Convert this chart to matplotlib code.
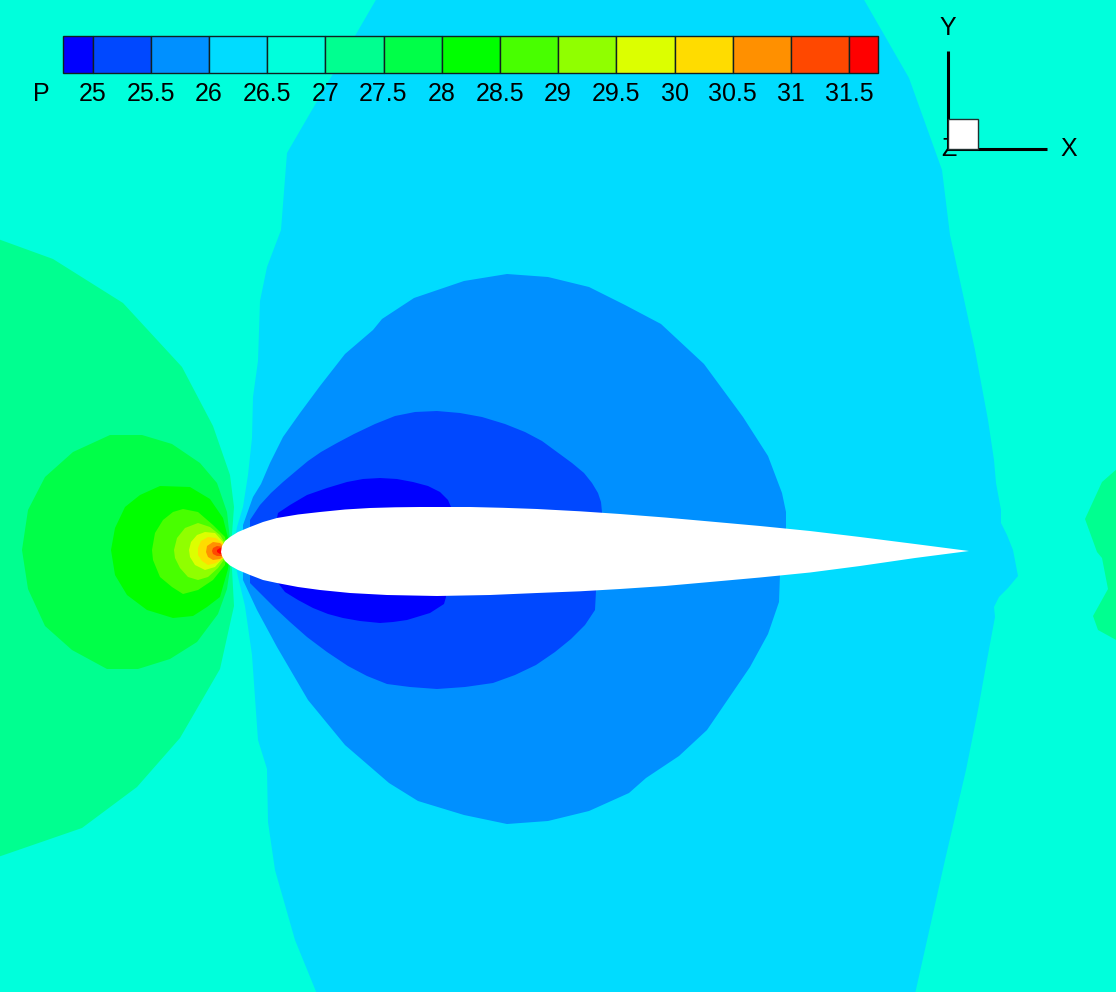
import numpy as np
import matplotlib
matplotlib.use("Agg")
import matplotlib.pyplot as plt

plt.rcParams['font.family'] = ['Liberation Sans', 'DejaVu Sans']

# ==== Pressure bands, colours and colour bar labels ====
band_colors = ['#0000FF', '#0048FF', '#0090FF', '#00DCFF', '#00FFDC', '#00FF90', '#00FF48', '#00FF00',
               '#48FF00', '#90FF00', '#DCFF00', '#FFDC00', '#FF9000', '#FF4800', '#FF0000']
band_edges = [24.75, 25, 25.5, 26, 26.5, 27, 27.5, 28, 28.5, 29, 29.5, 30, 30.5, 31, 31.5, 31.75]
tick_levels = [25, 25.5, 26, 26.5, 27, 27.5, 28, 28.5, 29, 29.5, 30, 30.5, 31, 31.5]

# ==== Contour outlines (image coordinates) ====
p26_5_cyan = [(377, -2), (287, 153), (281, 230), (267, 267), (260, 301), (258, 361), (253, 397), (252, 438),
              (248, 475), (243, 507), (237, 527), (233, 551), (238, 577), (245, 606), (252, 655), (258, 740),
              (267, 769), (268, 822), (275, 870), (295, 940), (317, 994), (915, 994), (945, 860), (966, 770),
              (978, 710), (987, 660), (995, 617), (994, 607), (999, 597), (1008, 588), (1018, 576), (1013, 550),
              (1007, 535), (1001, 523), (1001, 510), (996, 483), (994, 460), (988, 420), (975, 350), (962, 290),
              (950, 235), (942, 170), (909, 78), (863, -2)]
p26_blue = [(243, 525), (253, 497), (261, 484), (270, 463), (283, 437), (300, 413), (320, 386), (345, 354),
            (373, 330), (382, 319), (414, 298), (464, 281), (507, 274), (548, 277), (589, 287), (625, 305),
            (661, 324), (704, 364), (743, 417), (768, 456), (782, 493), (786, 512), (786, 528), (780, 574),
            (779, 602), (768, 634), (750, 667), (707, 730), (679, 756), (646, 778), (629, 793), (589, 811),
            (548, 821), (507, 824), (464, 815), (418, 801), (389, 783), (345, 745), (308, 700), (277, 647),
            (257, 610), (243, 580)]
p25_5_blue = [(250, 520), (260, 505), (271, 493), (283, 482), (296, 471), (308, 461), (321, 452), (337, 443),
              (354, 434), (375, 424), (395, 416), (415, 412), (437, 411), (460, 413), (482, 417), (505, 424),
              (525, 432), (542, 441), (557, 452), (572, 463), (584, 473), (592, 483), (598, 493), (601, 502),
              (602, 512), (602, 530), (596, 591), (595, 610), (585, 625), (571, 639), (555, 652), (536, 665),
              (515, 675), (493, 683), (465, 687), (437, 689), (410, 687), (387, 684), (367, 676), (348, 666),
              (327, 652), (307, 637), (290, 622), (275, 608), (262, 595), (250, 583)]
p25_blue = [(277, 518), (278, 513), (290, 505), (307, 495), (327, 488), (347, 482), (363, 479), (380, 478),
            (397, 479), (413, 482), (428, 486), (440, 492), (448, 500), (451, 507), (451, 530), (446, 597),
            (444, 604), (430, 613), (407, 620), (393, 622), (380, 623), (360, 621), (343, 618), (328, 614),
            (313, 608), (298, 600), (285, 592), (278, 583)]
p27_green = [(-2, 239), (53, 259), (123, 303), (182, 367), (213, 426), (230, 475), (234, 507), (232, 534),
             (228, 551), (232, 569), (234, 606), (220, 669), (180, 738), (137, 787), (82, 828), (-2, 857)]
p27_green_right = [(1118, 468), (1102, 482), (1085, 519), (1097, 552), (1102, 558), (1108, 589), (1093, 616),
                   (1098, 630), (1118, 641)]
p27_5_green = [(110, 435), (142, 435), (172, 444), (200, 463), (217, 483), (227, 512), (230, 540), (230, 569),
               (227, 589), (218, 614), (197, 642), (170, 659), (138, 669), (107, 669), (72, 650), (45, 626),
               (28, 589), (22, 550), (28, 510), (45, 477), (73, 452)]
p28_green = [(160, 486), (190, 487), (210, 499), (223, 518), (228, 538), (230, 552), (228, 569), (220, 597),
             (207, 607), (193, 616), (173, 618), (147, 610), (127, 595), (115, 575), (111, 550), (115, 528),
             (125, 507), (140, 495)]
p28_5_green = [(183, 509), (198, 512), (213, 525), (225, 537), (227, 550), (225, 565), (213, 580), (198, 590),
               (183, 594), (172, 587), (160, 577), (153, 560), (152, 550), (155, 533), (163, 520), (173, 512)]
p29_yellow = [(198, 523), (210, 527), (220, 535), (225, 543), (225, 558), (218, 568), (208, 577), (198, 580),
              (188, 577), (180, 568), (175, 558), (174, 550), (177, 538), (185, 528)]
p29_5_yellow = [(205, 532), (215, 533), (223, 542), (223, 558), (215, 567), (205, 570), (195, 565), (190, 557),
                (189, 550), (191, 542), (197, 535)]
p30_yellow = [(208, 537), (216, 538), (225, 545), (225, 557), (216, 563), (208, 565), (202, 561), (198, 555),
              (198, 548), (201, 541)]
p30_5_orange = [(213, 542), (220, 543), (225, 548), (225, 555), (220, 559), (213, 560), (208, 557), (206, 552),
                (207, 546)]
p31_orange = [(217, 546), (224, 547), (224, 556), (217, 556), (213, 554), (212, 551), (213, 548)]
p31_5_red = [(220, 548), (224, 549), (224, 554), (220, 554), (217, 552), (217, 550)]
airfoil = [(221, 552), (222, 546), (225, 541), (230, 537), (238, 532), (250, 527), (263, 522), (277, 518),
           (298, 514.5), (320, 512), (345, 509.5), (370, 508), (395, 507.3), (420, 507), (470, 507), (503, 507.8),
           (537, 509), (580, 511.3), (620, 514), (665, 517.5), (710, 521.5), (760, 526), (810, 531), (860, 537),
           (915, 544), (969, 551), (915, 558), (860, 566), (810, 572.5), (760, 577.5), (710, 582), (665, 586),
           (620, 589), (580, 591.3), (537, 593), (490, 595), (437, 596), (387, 595), (350, 593), (320, 590),
           (298, 587), (277, 583), (263, 580), (250, 575), (238, 570), (230, 565.5), (225, 561), (222, 556)]

contours = [(p27_green, 5), (p27_green_right, 5), (p26_5_cyan, 3), (p26_blue, 2), (p25_5_blue, 1), (p25_blue, 0),
            (p27_5_green, 6), (p28_green, 7), (p28_5_green, 8), (p29_yellow, 9), (p29_5_yellow, 10),
            (p30_yellow, 11), (p30_5_orange, 12), (p31_orange, 13), (p31_5_red, 14)]


def bar_pos(level):
    """Pixel position of a pressure level on the colour bar."""
    return 92.5 + (np.asarray(level) - 25) * 116.4


fig = plt.figure(figsize=(11.16, 9.92), dpi=100)
ax = fig.add_axes([0, 0, 1, 1])
ax.set_facecolor(band_colors[4])

for outline, band in contours:
    xs, ys = zip(*outline)
    ax.fill(xs, ys, color=band_colors[band], linewidth=0)

xs, ys = zip(*airfoil)
ax.fill(xs, ys, color='white', linewidth=0, zorder=3)

# colour bar
edges = bar_pos(band_edges)
ax.bar(edges[:-1], 37, width=np.diff(edges), bottom=36, align='edge', color=band_colors,
       edgecolor='#102020', linewidth=1, zorder=4)
for level in tick_levels:
    ax.text(bar_pos(level), 94, f'{level:g}', ha='center', va='center', fontsize=18, zorder=5)
ax.text(41, 94, 'P', ha='center', va='center', fontsize=18, zorder=5)

# axis triad
ax.plot([948, 948], [51, 150], color='black', linewidth=2.2, solid_capstyle='butt', zorder=4)
ax.plot([947, 1047], [149, 149], color='black', linewidth=2.2, solid_capstyle='butt', zorder=4)
ax.text(948, 28, 'Y', ha='center', va='center', fontsize=18, zorder=5)
ax.text(1069, 149, 'X', ha='center', va='center', fontsize=18, zorder=5)
ax.text(949, 149, 'Z', ha='center', va='center', fontsize=18, zorder=4)
ax.fill([948, 978, 978, 948], [119, 119, 149, 149], facecolor='white', edgecolor='#203030', linewidth=1, zorder=5)

ax.set_xlim(0, 1116)
ax.set_ylim(992, 0)
ax.axis('off')
fig.patch.set_facecolor(band_colors[4])

fig.savefig('out.png', dpi=100, facecolor=fig.get_facecolor())
